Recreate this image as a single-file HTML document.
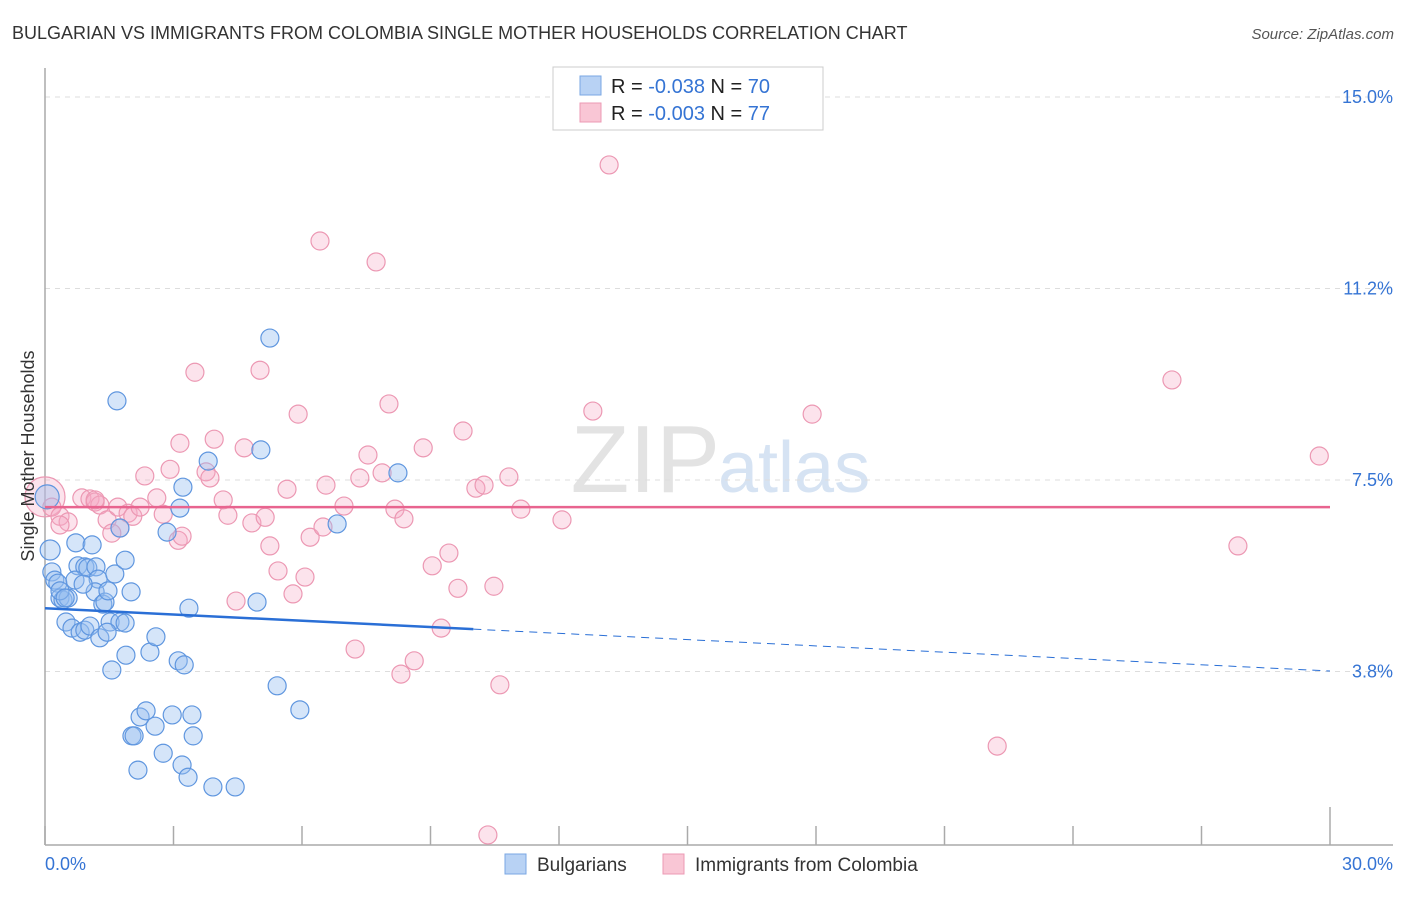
<!DOCTYPE html>
<html><head><meta charset="utf-8"><style>
body{margin:0;background:#fff;font-family:"Liberation Sans",sans-serif;}
svg text{font-family:"Liberation Sans",sans-serif;}
</style></head><body>
<svg id="chart" width="1406" height="892" viewBox="0 0 1406 892">
<text x="12" y="39" font-size="18" fill="#333">BULGARIAN VS IMMIGRANTS FROM COLOMBIA SINGLE MOTHER HOUSEHOLDS CORRELATION CHART</text>
<text x="1394" y="39" font-size="15" fill="#555" font-style="italic" text-anchor="end">Source: ZipAtlas.com</text>
<text x="720" y="492" font-size="96" fill="#e3e3e3" font-family="Liberation Serif" text-anchor="end">ZIP</text>
<text x="718" y="492" font-size="72" fill="#d6e3f3">atlas</text>
<g id="grid"></g>
<g id="axes"></g>
<g id="pinkpts"></g>
<g id="bluepts"></g>
<g id="trends"></g>
<text x="0" y="0" transform="translate(34,456) rotate(-90)" font-size="18" fill="#333" text-anchor="middle">Single Mother Households</text>
<g>
<rect x="553" y="67" width="270" height="63" fill="#fff" stroke="#ccc"/>
<rect x="580" y="76" width="21" height="19" fill="#b8d2f4" stroke="#7aa7e3"/>
<rect x="580" y="103" width="21" height="19" fill="#f9c6d5" stroke="#ec9ab4"/>
<text x="611" y="93" font-size="20" fill="#222">R = <tspan fill="#3574d4">-0.038</tspan>   N = <tspan fill="#3574d4">70</tspan></text>
<text x="611" y="120" font-size="20" fill="#222">R = <tspan fill="#3574d4">-0.003</tspan>   N = <tspan fill="#3574d4">77</tspan></text>
</g>
<g>
<rect x="505" y="854" width="21" height="20" fill="#b8d2f4" stroke="#7aa7e3"/>
<text x="537" y="871" font-size="19" fill="#333">Bulgarians</text>
<rect x="663" y="854" width="21" height="20" fill="#f9c6d5" stroke="#ec9ab4"/>
<text x="695" y="871" font-size="19" fill="#333">Immigrants from Colombia</text>
</g>
</svg>
<script>
const xTicks=[0,3,6,9,12,15,18,21,24,27,30];
const yTicks=[3.75,7.5,11.25,15];
const yTickLabels=["3.8%","7.5%","11.2%","15.0%"];
const xEndLabels=["0.0%","30.0%"];
const blueX=[0.05,0.12,0.16,0.23,0.30,0.35,0.42,0.54,0.49,0.63,0.82,0.93,1.05,1.28,0.72,1.10,0.77,0.93,1.00,1.19,1.24,1.17,1.35,1.40,1.47,1.63,1.52,1.75,1.87,1.87,1.75,2.01,1.56,1.89,2.45,2.59,1.68,2.85,3.15,3.22,3.81,3.36,3.11,3.25,5.04,5.25,4.95,5.42,5.95,6.82,8.24,2.22,2.36,2.57,2.03,2.08,2.76,2.97,3.43,3.46,2.17,3.20,3.34,3.92,4.44,0.70,0.89,0.35,1.45,0.47];
const blueY=[7.17,6.13,5.70,5.54,5.48,5.19,5.15,5.19,4.72,4.60,4.52,4.56,4.64,4.41,6.27,6.23,5.82,5.80,5.78,5.80,5.56,5.31,5.07,5.11,5.33,5.66,4.72,4.72,4.70,5.93,6.56,5.31,3.78,4.07,4.13,4.43,9.05,6.48,6.95,7.36,7.87,4.99,3.96,3.88,8.09,10.28,5.11,3.47,3.00,6.64,7.64,2.86,2.98,2.68,2.49,2.49,2.15,2.90,2.90,2.49,1.82,1.92,1.68,1.49,1.49,5.54,5.46,5.33,4.52,5.19];
const pinkX=[0,0.16,0.35,0.54,0.86,1.05,1.17,1.28,1.45,1.70,1.75,1.56,1.94,2.05,2.22,2.33,2.61,2.76,2.92,3.11,3.20,3.15,3.50,3.76,3.85,3.95,4.16,4.27,4.46,4.65,4.83,5.02,5.14,5.25,5.44,5.65,5.79,5.91,6.07,6.19,6.42,6.49,6.56,6.98,7.24,7.35,7.54,7.73,7.87,8.03,8.17,8.31,8.38,8.62,8.83,9.04,9.25,9.43,9.64,9.76,10.06,10.25,10.48,10.62,10.83,11.11,12.07,12.79,13.17,10.34,17.91,22.23,26.31,27.85,29.75,0.35,1.17];
const pinkY=[7.17,6.97,6.79,6.68,7.15,7.13,7.07,7.01,6.72,6.97,6.56,6.46,6.85,6.79,6.97,7.58,7.15,6.83,7.71,6.32,6.40,8.22,9.61,7.66,7.54,8.30,7.11,6.81,5.13,8.13,6.66,9.65,6.77,6.21,5.72,7.32,5.27,8.79,5.60,6.38,12.18,6.58,7.40,6.99,4.19,7.54,7.99,11.77,7.64,8.99,6.93,3.70,6.74,3.96,8.13,5.82,4.60,6.07,5.38,8.46,7.34,7.40,5.42,3.49,7.56,6.93,6.72,8.85,13.67,0.55,8.79,2.29,9.46,6.21,7.97,6.62,7.11];
const blueTrend=[4.99,3.76];
const pinkTrend=[6.97,6.97];
const NS="http://www.w3.org/2000/svg";
const X0=45,X1=1330,YTOP=97,YPX=51.07;
function sx(v){return X0+(X1-X0)*v/30;}
function sy(v){return YTOP+(15-v)*YPX;}
function mk(tag,attrs,parent){const e=document.createElementNS(NS,tag);for(const k in attrs)e.setAttribute(k,attrs[k]);parent.appendChild(e);return e;}
const grid=document.getElementById('grid'),axes=document.getElementById('axes');
yTicks.forEach((t,i)=>{
  const l=mk('line',{x1:45,x2:1393,y1:sy(t),y2:sy(t),stroke:'#ddd','stroke-dasharray':'5,5'},grid);
  
  
  const tx=mk('text',{x:1393,y:sy(t)+6,'font-size':18,fill:'#3574d4','text-anchor':'end'},axes);
  tx.textContent=yTickLabels[i];
  
  
});
const ya=mk('line',{x1:45,x2:45,y1:68,y2:845,stroke:'#aaa','stroke-width':1.5},axes);


const xa=mk('line',{x1:45,x2:1393,y1:845,y2:845,stroke:'#aaa','stroke-width':1.5},axes);


xTicks.forEach(t=>{
  const l=mk('line',{x1:sx(t),x2:sx(t),y1:t===30?807:826,y2:845,stroke:'#aaa','stroke-width':1.5},axes);
  
  
});
const xl0=mk('text',{x:45,y:870,'font-size':18,fill:'#3574d4'},axes);xl0.textContent=xEndLabels[0];


const xl1=mk('text',{x:1393,y:870,'font-size':18,fill:'#3574d4','text-anchor':'end'},axes);xl1.textContent=xEndLabels[1];


const pg=document.getElementById('pinkpts');
pinkX.forEach((x,i)=>{
  const c=mk('circle',{cx:sx(x),cy:sy(pinkY[i]),r:i===0?20:9,fill:'rgba(246,170,196,0.33)',stroke:'#ec98b3','stroke-width':1.2},pg);
  
  
});
const bg=document.getElementById('bluepts');
blueX.forEach((x,i)=>{
  const c=mk('circle',{cx:sx(x),cy:sy(blueY[i]),r:i===0?12:(i===1?10:9),fill:'rgba(150,190,240,0.4)',stroke:'#5f96df','stroke-width':1.2},bg);
  
  
});
const tg=document.getElementById('trends');
const bAt=v=>blueTrend[0]+(blueTrend[1]-blueTrend[0])*v/30;
const t1=mk('line',{x1:sx(0),y1:sy(bAt(0)),x2:sx(10),y2:sy(bAt(10)),stroke:'#2a6fd6','stroke-width':2.5},tg);


const t2=mk('line',{x1:sx(10),y1:sy(bAt(10)),x2:sx(30),y2:sy(bAt(30)),stroke:'#2a6fd6','stroke-width':1,'stroke-dasharray':'8,6'},tg);


const t3=mk('line',{x1:sx(0),y1:sy(pinkTrend[0]),x2:sx(30),y2:sy(pinkTrend[1]),stroke:'#e8648f','stroke-width':2.5},tg);


</script>
</body></html>
